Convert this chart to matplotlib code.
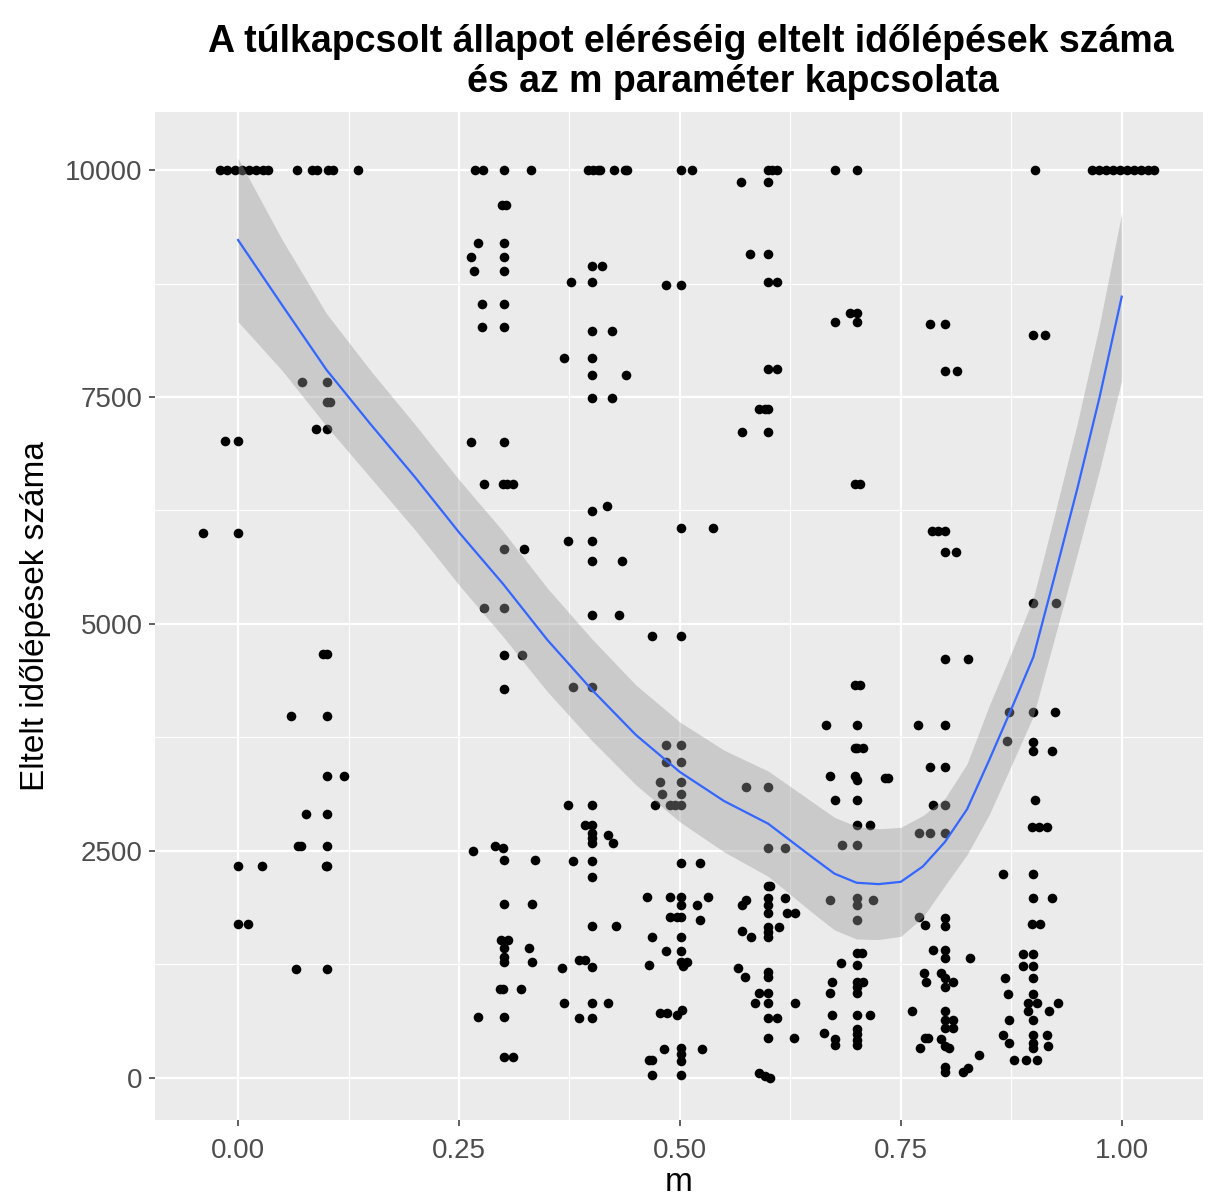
import matplotlib
matplotlib.use("Agg")
import matplotlib.pyplot as plt
import numpy as np

# points at the 10000 cap
m_cap = [-0.020, -0.012, -0.004, 0.004, 0.012, 0.020, 0.028, 0.034,
         0.067, 0.084, 0.089, 0.102, 0.107, 0.136,
         0.268, 0.277, 0.301, 0.331,
         0.396, 0.402, 0.407, 0.410, 0.426, 0.438, 0.440,
         0.501, 0.514, 0.600, 0.604, 0.610, 0.675, 0.700, 0.902,
         0.966, 0.974, 0.982, 0.990, 0.998, 1.006, 1.014, 1.022, 1.030, 1.037]

# remaining points, grouped by column of m
m_low = [
    # m ~ 0
    -0.015, 0.0, -0.040, 0.0, 0.0, 0.027, 0.0, 0.011,
    # m ~ 0.1
    0.072, 0.101, 0.101, 0.104, 0.088, 0.101, 0.096, 0.101, 0.060, 0.101,
    0.101, 0.120, 0.077, 0.101, 0.068, 0.071, 0.101, 0.099, 0.101, 0.066, 0.101,
    # m ~ 0.3
    0.299, 0.303, 0.271, 0.301, 0.264, 0.301, 0.267, 0.301, 0.276, 0.301,
    0.276, 0.301, 0.264, 0.301, 0.278, 0.300, 0.304, 0.311, 0.301, 0.324,
    0.278, 0.301, 0.301, 0.321, 0.301, 0.266, 0.291, 0.300, 0.301, 0.336,
    0.301, 0.333, 0.298, 0.305, 0.301, 0.329, 0.301, 0.301, 0.333,
    0.296, 0.300, 0.320, 0.272, 0.301, 0.301, 0.311,
    # m ~ 0.4
    0.400, 0.412, 0.377, 0.400, 0.400, 0.423, 0.369, 0.400, 0.400, 0.439,
    0.400, 0.423, 0.400, 0.418, 0.373, 0.400, 0.400, 0.434, 0.400, 0.431,
    0.379, 0.400, 0.373, 0.400, 0.393, 0.401, 0.400, 0.400, 0.400, 0.419, 0.424,
    0.379, 0.400, 0.400, 0.400, 0.428, 0.386, 0.393, 0.400, 0.367,
    0.369, 0.400, 0.419, 0.386, 0.400,
    # m ~ 0.5
    0.484, 0.501, 0.501, 0.537, 0.468, 0.501, 0.484, 0.501, 0.484, 0.501,
    0.477, 0.501, 0.480, 0.501, 0.472, 0.489, 0.494, 0.501, 0.501, 0.523,
    0.463, 0.489, 0.501, 0.532, 0.501, 0.519, 0.489, 0.497, 0.501, 0.523,
    0.469, 0.501, 0.484, 0.501, 0.465, 0.501, 0.503, 0.508,
    0.477, 0.485, 0.497, 0.502, 0.482, 0.501, 0.501, 0.501, 0.525,
    0.465, 0.469, 0.469, 0.501,
    # m ~ 0.6
    0.569, 0.600, 0.579, 0.600, 0.600, 0.610, 0.600, 0.610, 0.590, 0.596, 0.600,
    0.570, 0.600, 0.575, 0.600, 0.600, 0.619, 0.600, 0.602,
    0.600, 0.600, 0.600, 0.575, 0.570, 0.619, 0.621, 0.630,
    0.600, 0.600, 0.612, 0.570, 0.581, 0.600,
    0.566, 0.600, 0.600, 0.574, 0.590, 0.600, 0.585, 0.600, 0.630,
    0.600, 0.610, 0.600, 0.629, 0.590, 0.596, 0.602,
    # m ~ 0.7
    0.692, 0.700, 0.675, 0.700, 0.698, 0.704, 0.698, 0.704, 0.665, 0.700,
    0.698, 0.701, 0.707, 0.670, 0.698, 0.700, 0.732, 0.736, 0.675, 0.700,
    0.700, 0.715, 0.684, 0.700, 0.670, 0.700, 0.700, 0.718, 0.700,
    0.700, 0.706, 0.682, 0.700, 0.672, 0.700, 0.700, 0.707, 0.670, 0.700,
    0.672, 0.700, 0.715, 0.663, 0.676, 0.676, 0.700, 0.700, 0.700, 0.700,
    # m ~ 0.8
    0.783, 0.800, 0.800, 0.814, 0.785, 0.792, 0.800, 0.800, 0.812, 0.800, 0.826,
    0.770, 0.800, 0.783, 0.800, 0.786, 0.800, 0.771, 0.783, 0.800,
    0.771, 0.777, 0.800, 0.800, 0.786, 0.800, 0.800, 0.828,
    0.776, 0.778, 0.796, 0.800, 0.809, 0.800, 0.763, 0.800, 0.800, 0.809,
    0.800, 0.809, 0.777, 0.781, 0.772, 0.796, 0.800, 0.805, 0.838,
    0.800, 0.800, 0.820, 0.826,
    # m ~ 0.9
    0.900, 0.913, 0.900, 0.926, 0.873, 0.900, 0.925, 0.870, 0.900, 0.900, 0.921,
    0.902, 0.898, 0.906, 0.915, 0.866, 0.900, 0.900, 0.921, 0.898, 0.907,
    0.888, 0.900, 0.888, 0.900, 0.868, 0.900, 0.871, 0.900,
    0.894, 0.904, 0.928, 0.894, 0.918, 0.873, 0.900,
    0.866, 0.873, 0.900, 0.900, 0.900, 0.915, 0.917, 0.878, 0.892, 0.904,
]

steps_low = [
    # m ~ 0
    7019, 7019, 6002, 6002, 2338, 2338, 1696, 1696,
    # m ~ 0.1
    7665, 7665, 7445, 7445, 7147, 7147, 4673, 4673, 3990, 3990,
    3326, 3326, 2907, 2907, 2555, 2555, 2555, 2338, 2338, 1200, 1200,
    # m ~ 0.3
    9614, 9614, 9196, 9196, 9045, 9045, 8891, 8891, 8524, 8524,
    8271, 8271, 7004, 7004, 6542, 6542, 6542, 6542, 5826, 5826,
    5180, 5180, 4659, 4659, 4287, 2503, 2555, 2530, 2401, 2401,
    1916, 1916, 1520, 1520, 1435, 1435, 1336, 1277, 1277,
    980, 980, 980, 675, 675, 235, 235,
    # m ~ 0.4
    8946, 8946, 8766, 8766, 8227, 8227, 7929, 7929, 7742, 7742,
    7489, 7489, 6240, 6299, 5917, 5917, 5697, 5697, 5099, 5099,
    4310, 4310, 3006, 3006, 2786, 2786, 2698, 2643, 2588, 2676, 2588,
    2393, 2393, 2217, 1677, 1677, 1300, 1300, 1222, 1211,
    829, 829, 829, 661, 661,
    # m ~ 0.5
    8733, 8733, 6057, 6057, 4871, 4871, 3667, 3667, 3484, 3484,
    3263, 3263, 3128, 3128, 3006, 3006, 3006, 3006, 2368, 2368,
    1997, 1997, 1997, 1997, 1905, 1905, 1776, 1776, 1776, 1740,
    1553, 1553, 1402, 1402, 1244, 1277, 1233, 1277,
    720, 720, 690, 750, 319, 330, 260, 190, 319,
    198, 198, 33, 33,
    # m ~ 0.6
    9871, 9871, 9074, 9074, 8766, 8766, 7808, 7808, 7368, 7368, 7368,
    7118, 7118, 3208, 3208, 2533, 2533, 2115, 2115,
    1980, 1900, 1820, 1960, 1905, 1982, 1817, 1817,
    1663, 1608, 1663, 1619, 1553, 1553,
    1211, 1167, 1112, 1112, 940, 940, 829, 829, 829,
    661, 661, 440, 440, 50, 20, 0,
    # m ~ 0.7
    8425, 8425, 8326, 8326, 6542, 6542, 4328, 4328, 3888, 3888,
    3634, 3634, 3634, 3326, 3326, 3280, 3300, 3300, 3061, 3061,
    2786, 2786, 2566, 2566, 1960, 1980, 1900, 1960, 1740,
    1377, 1377, 1266, 1244, 1057, 1057, 1002, 1057, 940, 940,
    694, 694, 694, 496, 430, 364, 540, 480, 420, 364,
    # m ~ 0.8
    8307, 8307, 7786, 7786, 6024, 6024, 6024, 5796, 5796, 4614, 4614,
    3888, 3888, 3428, 3428, 3006, 3006, 2698, 2698, 2698,
    1773, 1685, 1762, 1674, 1410, 1410, 1322, 1322,
    1156, 1057, 1156, 1100, 1057, 1002, 741, 741, 639, 639,
    551, 551, 441, 441, 330, 430, 352, 330, 253,
    121, 66, 66, 110,
    # m ~ 0.9
    8186, 8186, 5235, 5235, 4034, 4034, 4034, 3715, 3700, 3605, 3605,
    3061, 2767, 2767, 2767, 2247, 2247, 1982, 1982, 1696, 1696,
    1366, 1366, 1233, 1233, 1101, 1101, 925, 925,
    826, 826, 826, 741, 741, 639, 639,
    474, 386, 474, 386, 330, 474, 352, 198, 198, 198,
]

# loess fit
smooth_m = [0, 0.05, 0.1, 0.15, 0.2, 0.25, 0.3, 0.35, 0.4, 0.45, 0.5, 0.55, 0.6,
            0.65, 0.675, 0.7, 0.725, 0.75, 0.775, 0.8, 0.825, 0.85, 0.875, 0.9,
            0.925, 0.95, 0.975, 1.0]
smooth_fit = [9229, 8510, 7800, 7200, 6620, 6010, 5440, 4825, 4280, 3780, 3370,
              3050, 2800, 2430, 2250, 2150, 2135, 2160, 2330, 2600, 2960, 3500,
              4060, 4636, 5560, 6500, 7500, 8605]
smooth_band = [900, 720, 620, 590, 580, 580, 580, 570, 560, 550, 550, 560, 580,
               610, 620, 620, 610, 600, 560, 480, 500, 600, 620, 650, 680, 720,
               800, 920]

x_ticks = [0.0, 0.25, 0.5, 0.75, 1.0]
x_tick_labels = ["0.00", "0.25", "0.50", "0.75", "1.00"]
y_ticks = [0, 2500, 5000, 7500, 10000]
y_tick_labels = ["0", "2500", "5000", "7500", "10000"]

title_line1 = "A túlkapcsolt állapot eléréséig eltelt időlépések száma"
title_line2 = "és az m paraméter kapcsolata"

plt.rcParams["font.family"] = ["Liberation Sans", "DejaVu Sans"]

fig = plt.figure(figsize=(12.15, 12), dpi=100)
ax = fig.add_axes([155 / 1215, 1 - 1120 / 1200, (1203 - 155) / 1215, (1120 - 112) / 1200])
ax.set_facecolor("#EBEBEB")

m_all = np.array(m_cap + m_low)
steps_all = np.array([10000] * len(m_cap) + steps_low)
ax.scatter(m_all, steps_all, s=48, color="black", linewidths=0, zorder=3)

fit = np.array(smooth_fit)
band = np.array(smooth_band)
ax.fill_between(smooth_m, fit - band, fit + band, color="#999999", alpha=0.4,
                linewidth=0, zorder=4)
ax.plot(smooth_m, fit, color="#3366FF", linewidth=1.6, zorder=5)

ax.set_xlim(-0.094, 1.092)
ax.set_ylim(-463, 10639)
ax.set_xticks(x_ticks)
ax.set_xticklabels(x_tick_labels)
ax.set_yticks(y_ticks)
ax.set_yticklabels(y_tick_labels)
ax.set_xticks([0.125, 0.375, 0.625, 0.875], minor=True)
ax.set_yticks([1250, 3750, 6250, 8750], minor=True)
ax.grid(which="major", color="white", linewidth=1.6, zorder=0)
ax.grid(which="minor", color="white", linewidth=0.8, zorder=0)
ax.set_axisbelow(True)
for s in ax.spines.values():
    s.set_visible(False)
ax.tick_params(which="major", length=4, width=1.1, color="#333333",
               labelcolor="#4D4D4D", labelsize=20, pad=5)
ax.tick_params(axis="x", which="major", pad=9)
ax.tick_params(which="minor", length=0)

ax.set_xlabel("m", fontsize=24, labelpad=2)
ax.set_ylabel("Eltelt időlépések száma", fontsize=24, labelpad=10)

fig.text(691 / 1215, 1 - 42 / 1200, title_line1, ha="center", va="center",
         fontsize=27, fontweight="bold")
fig.text(733 / 1215, 1 - 82 / 1200, title_line2, ha="center", va="center",
         fontsize=27, fontweight="bold")

fig.savefig("out.png", dpi=100, facecolor="white")
